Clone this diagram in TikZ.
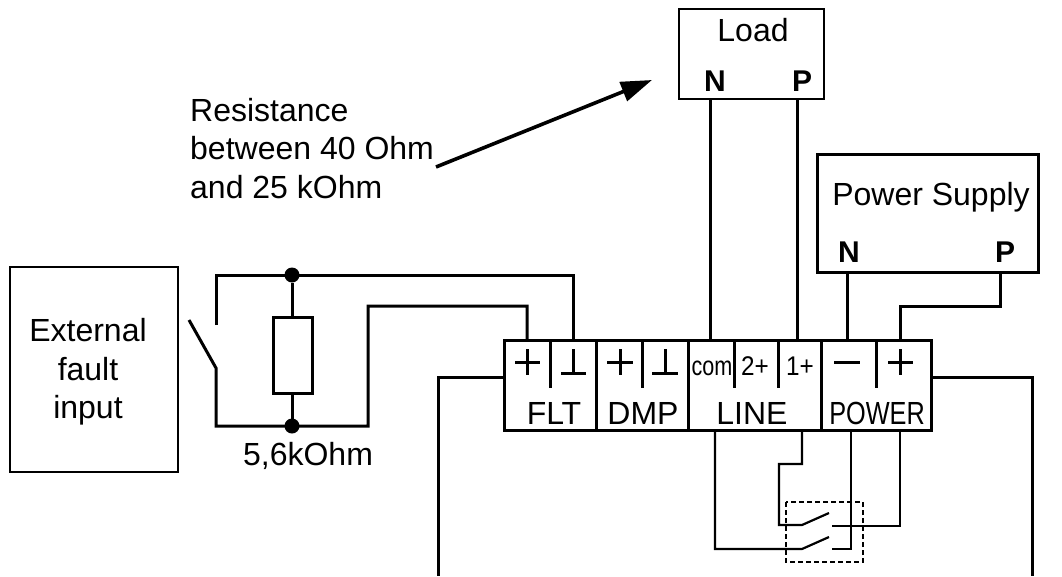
\documentclass[tikz,border=0pt]{standalone}
\usepackage{fontspec}
\setmainfont{Liberation Sans}
\usetikzlibrary{arrows.meta}
\tikzset{
	heavy/.style={line width=3pt},
	wire/.style={line width=2.2pt},
	txt/.style={font=\fontsize{32}{38.5}\selectfont,inner sep=0pt,align=left},
	pin/.style={font=\bfseries\fontsize{30}{32}\selectfont,inner sep=0pt},
	tag/.style={font=\fontsize{32}{34}\selectfont,inner sep=0pt},
	small/.style={font=\fontsize{27}{30}\selectfont,inner sep=0pt,anchor=base},
	dot/.style={circle,fill=black,inner sep=0pt,outer sep=0pt,minimum size=15pt}
}
\begin{document}
\begin{tikzpicture}[x=1pt,y=-1pt]
	\useasboundingbox (0,0) rectangle (1062,576);

	% terminal block
	\coordinate (tl) at (504,340);
	\coordinate (br) at (931,430);
	\draw[heavy] (tl) rectangle (br);
	\foreach \x in {596,688,821} \draw[heavy] (\x,340) -- (\x,430);
	\foreach \x in {550,642,734,778,876} \draw[heavy] (\x,340) -- (\x,388);

	% boxes
	\coordinate (loadA) at (679,9);
	\coordinate (loadB) at (824,99);
	\draw[wire] (loadA) rectangle (loadB);
	\coordinate (supA) at (817,154);
	\coordinate (supB) at (1038,272);
	\draw[heavy] (supA) rectangle (supB);
	\coordinate (extA) at (10,267);
	\coordinate (extB) at (178,472);
	\draw[wire] (extA) rectangle (extB);

	% fault switch and resistor
	\coordinate (top) at (292,275);
	\coordinate (bot) at (292,426);
	\node[dot] (dotT) at (top) {};
	\node[dot] (dotB) at (bot) {};
	\draw[heavy] (216,325) -- (216,275) -- (573,275) -- (573,340);
	\draw[heavy] (189,320) -- (216,368) -- (216,426) -- (368,426) -- (368,306) -- (527,306) -- (527,340);
	\draw[heavy] (273,317) rectangle (312,393);
	\draw[heavy] (dotT) -- (292,317);
	\draw[heavy] (292,393) -- (dotB);

	% field wires
	\draw[heavy] (504,377) -- (438,377) -- (438,576);
	\draw[heavy] (931,377) -- (1032,377) -- (1032,576);
	\draw[heavy] (710,99) -- (710,340);
	\draw[heavy] (797,99) -- (797,340);
	\draw[heavy] (847,272) -- (847,340);
	\draw[heavy] (1000,272) -- (1000,306) -- (900,306) -- (900,340);

	% relay contacts
	\draw[wire] (715,430) -- (715,549) -- (802,549) -- (829,537);
	\draw[wire] (832,549) -- (851,549) -- (851,430);
	\draw[wire] (802,430) -- (802,464) -- (779,464) -- (779,525) -- (802,525) -- (829,513);
	\draw[wire] (832,526) -- (900,526) -- (900,430);
	\draw[line width=1.2pt,dash pattern=on 5pt off 3pt] (786,502) rectangle (863,562);

	% pointer
	\draw[line width=3.6pt,-{Triangle[length=31pt,width=20pt]}] (436,167) -- (652,80);

	% labels
	\node[txt,anchor=north west] (res) at (190,98) {Resistance\\between 40 Ohm\\and 25 kOhm};
	\node[txt,align=center] (ext) at (88,372) {External\\fault\\input};
	\node[txt] (rval) at (308,456) {5,6kOhm};
	\node[txt] (load) at (753,30) {Load};
	\node[txt] (sup) at (931,197) {Power Supply};
	\node[pin] at (715,81) (loadN) {N};
	\node[pin] at (802,81) (loadP) {P};
	\node[pin] at (849,252) (supN) {N};
	\node[pin] at (1005,252) (supP) {P};
	\node[tag] (flt) at (554,413) {FLT};
	\node[tag] (dmp) at (643,413) {DMP};
	\node[tag] (lin) at (752,413) {LINE};
	\node[tag] (pow) at (877,413) {\scalebox{.79}[1]{POWER}};

	% terminal symbols
	\draw[heavy] (515,362) -- (540,362) (527,349) -- (527,375);
	\draw[heavy] (561,373) -- (586,373) (573,349) -- (573,373);
	\draw[heavy] (607,362) -- (633,362) (620,349) -- (620,375);
	\draw[heavy] (652,373) -- (678,373) (665,349) -- (665,373);
	\draw[heavy] (834,362) -- (860,362);
	\draw[heavy] (888,362) -- (913,362) (900,349) -- (900,375);
	\node[small] (com) at (712,375) {\scalebox{.8}[1]{com}};
	\node[small] (two) at (755,375) {\scalebox{.9}[1]{2+}};
	\node[small] (one) at (800,375) {\scalebox{.9}[1]{1+}};
\end{tikzpicture}
\end{document}
